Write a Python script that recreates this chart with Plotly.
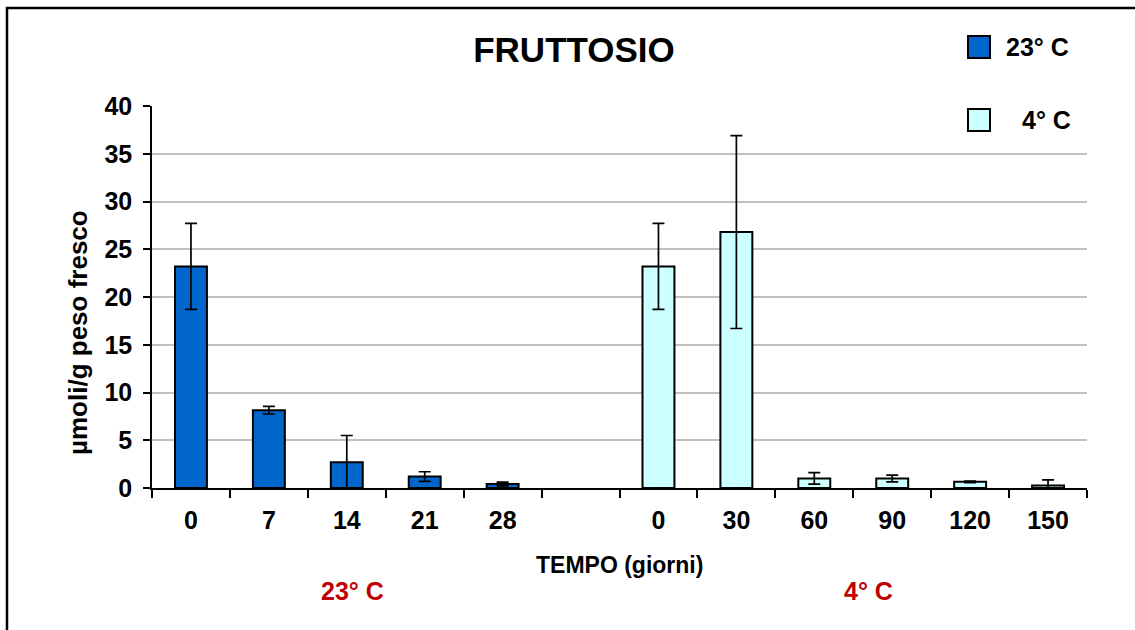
import plotly.graph_objects as go

# Category slots along the time axis (one empty slot separates the two series)
slots = ["a0", "a7", "a14", "a21", "a28", "gap", "b0", "b30", "b60", "b90", "b120", "b150"]
slot_labels = ["0", "7", "14", "21", "28", "", "0", "30", "60", "90", "120", "150"]

# 23 °C series
x_23 = ["a0", "a7", "a14", "a21", "a28"]
y_23 = [23.2, 8.15, 2.7, 1.2, 0.42]
err_23 = [4.5, 0.4, 2.8, 0.5, 0.2]

# 4 °C series
x_4 = ["b0", "b30", "b60", "b90", "b120", "b150"]
y_4 = [23.2, 26.8, 1.0, 1.0, 0.65, 0.25]
err_4 = [4.5, 10.1, 0.6, 0.35, 0.08, 0.6]

BLUE = "#0066CC"
CYAN = "#CCFFFF"
FONT = "Liberation Sans, Arial, sans-serif"

W, H = 1135, 630
L, R, T, B = 152, 48, 106, 142
pw, ph = W - L - R, H - T - B


def px(x):
    return (x - L) / pw


def py(y):
    return (H - B - y) / ph


err_style = dict(type="data", visible=True, color="black", thickness=1.7, width=6)

fig = go.Figure()
fig.add_trace(go.Bar(
    x=x_23, y=y_23, name="23° C",
    marker=dict(color=BLUE, line=dict(color="black", width=2)),
    error_y=dict(array=err_23, **err_style),
    width=0.41, showlegend=False,
))
fig.add_trace(go.Bar(
    x=x_4, y=y_4, name="4° C",
    marker=dict(color=CYAN, line=dict(color="black", width=2)),
    error_y=dict(array=err_4, **err_style),
    width=0.41, showlegend=False,
))

fig.update_layout(
    width=W, height=H,
    margin=dict(l=L, r=R, t=T, b=B, pad=0),
    paper_bgcolor="white", plot_bgcolor="white",
    barmode="overlay",
    font=dict(family=FONT, color="black", size=24, weight="bold"),
    title=dict(text="FRUTTOSIO", x=574 / W, xanchor="center", y=1 - 50 / H, yanchor="middle",
               font=dict(size=35, family=FONT, weight="bold")),
)

fig.update_xaxes(
    type="category", categoryorder="array", categoryarray=slots,
    tickmode="array", tickvals=slots, ticktext=slot_labels,
    tickson="boundaries", ticks="outside", ticklen=8, tickwidth=1.5, tickcolor="black",
    showline=True, linecolor="black", linewidth=1.5,
    showgrid=False, range=[-0.5, 11.5],
    ticklabelstandoff=9,
    tickfont=dict(size=25, family=FONT, weight="bold"),
)
fig.update_yaxes(
    range=[0, 40], tickvals=[0, 5, 10, 15, 20, 25, 30, 35, 40],
    ticks="outside", ticklen=7, tickwidth=1.5, tickcolor="black",
    showline=True, linecolor="black", linewidth=1.5,
    showgrid=True, gridcolor="#C0C0C0", gridwidth=1.5,
    zeroline=False,
    ticklabelstandoff=6,
    tickfont=dict(size=25, family=FONT, weight="bold"),
)

# Axis titles
fig.add_annotation(xref="paper", yref="paper", x=px(619), y=py(565),
                   text="TEMPO (giorni)", showarrow=False, xanchor="center", yanchor="middle",
                   font=dict(size=23, family=FONT, weight="bold", color="black"))
fig.add_annotation(xref="paper", yref="paper", x=px(78), y=py(333),
                   text="µmoli/g peso fresco", showarrow=False, textangle=-90,
                   xanchor="center", yanchor="middle",
                   font=dict(size=26, family=FONT, weight="bold", color="black"))

# Frame around the chart
fig.add_shape(type="rect", xref="paper", yref="paper",
              x0=px(7), x1=px(1140), y0=py(8), y1=py(640),
              line=dict(color="black", width=2.5), layer="above")

# Legend squares and labels
for (y0, y1, fill, label, tx) in [(36, 58, BLUE, "23° C", 1004), (109, 131, CYAN, "4° C", 1020)]:
    fig.add_shape(type="rect", xref="paper", yref="paper",
                  x0=px(968), x1=px(990), y0=py(y1), y1=py(y0),
                  fillcolor=fill, line=dict(color="black", width=2))
    fig.add_annotation(xref="paper", yref="paper", x=px(tx), y=py((y0 + y1) / 2),
                       text=label, showarrow=False, xanchor="left", yanchor="middle",
                       font=dict(size=25, family=FONT, weight="bold", color="black"))

# Group labels under the axis
for label, cx in [("23° C", 352), ("4° C", 868)]:
    fig.add_annotation(xref="paper", yref="paper", x=px(cx), y=py(591),
                       text=label, showarrow=False, xanchor="center", yanchor="middle",
                       font=dict(size=25, family=FONT, weight="bold", color="#C00000"))

fig.write_html("out.html")
